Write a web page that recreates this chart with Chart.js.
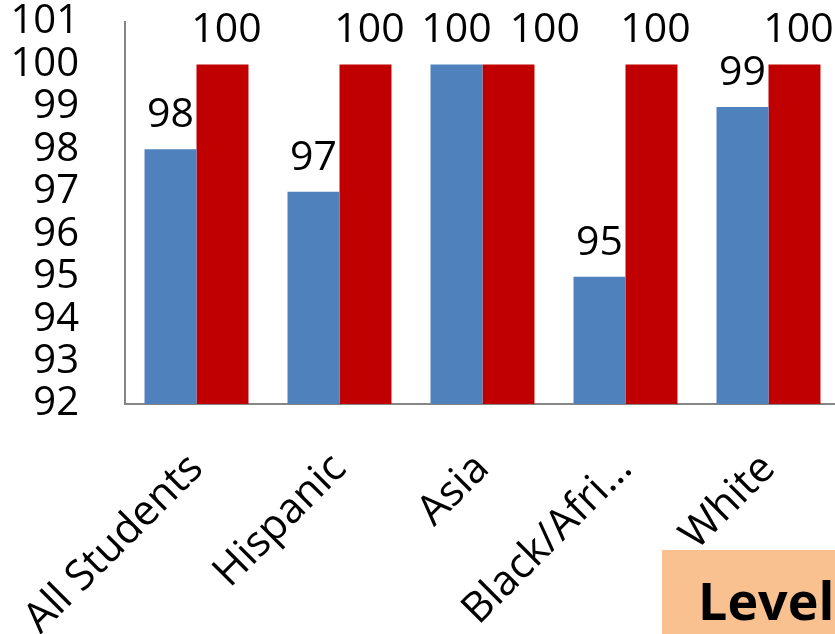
<!DOCTYPE html>
<html lang="en">
<head>
    <meta charset="UTF-8">
    <title>Level Chart</title>
    <script src="https://cdn.jsdelivr.net/npm/chart.js"></script>
    <style>
        body {
            margin: 0;
            background-color: #ffffff;
            font-family: "Open Sans", sans-serif;
        }

        #wrap {
            position: relative;
            width: 835px;
            height: 634px;
            overflow: hidden;
        }

        #chartBox {
            position: absolute;
            left: 0;
            top: 0;
            width: 842px;
            height: 634px;
        }

        #levelTag {
            position: absolute;
            left: 662px;
            top: 550px;
            width: 190px;
            height: 90px;
            background-color: #f9c090;
            font-weight: bold;
            font-size: 52px;
            line-height: 100px;
            padding-left: 36px;
            box-sizing: border-box;
            color: #000;
        }
    </style>
</head>
<body>
<div id="wrap">
    <div id="chartBox">
        <canvas id="levelChart"></canvas>
    </div>
    <div id="levelTag">Level</div>
</div>

<script>
    const groups = ['All Students', 'Hispanic', 'Asia', 'Black/Afri…', 'White'];
    const firstSeries = [98, 97, 100, 95, 99];
    const secondSeries = [100, 100, 100, 100, 100];
    const yTicks = [92, 93, 94, 95, 96, 97, 98, 99, 100, 101];

    // write each value a little above its bar, nudging the red one right if the two collide
    const valueLabels = {
        id: 'valueLabels',
        afterDatasetsDraw(chart) {
            const ctx = chart.ctx;
            ctx.save();
            ctx.font = '41px "Open Sans"';
            ctx.fillStyle = '#000';
            ctx.textAlign = 'center';
            ctx.textBaseline = 'alphabetic';
            const blue = chart.getDatasetMeta(0).data;
            const red = chart.getDatasetMeta(1).data;
            groups.forEach((g, j) => {
                const t1 = String(firstSeries[j]);
                const t2 = String(secondSeries[j]);
                const w1 = ctx.measureText(t1).width;
                const w2 = ctx.measureText(t2).width;
                const y1 = blue[j].y - 22;
                const y2 = red[j].y - 22;
                let x2 = red[j].x + 4;
                if (Math.abs(y1 - y2) < 36) {
                    const minX = blue[j].x + w1 / 2 + 18 + w2 / 2;
                    if (x2 < minX) x2 = minX;
                }
                ctx.fillText(t1, blue[j].x, y1);
                ctx.fillText(t2, x2, y2);
            });
            ctx.restore();
        }
    };

    const ctx = document.getElementById('levelChart').getContext('2d');
    new Chart(ctx, {
        type: 'bar',
        data: {
            labels: groups,
            datasets: [{
                data: firstSeries,
                backgroundColor: '#4f81bd',
                barPercentage: 1.0,
                categoryPercentage: 0.727
            }, {
                data: secondSeries,
                backgroundColor: '#c00000',
                barPercentage: 1.0,
                categoryPercentage: 0.727
            }]
        },
        options: {
            responsive: true,
            maintainAspectRatio: false,
            animation: false,
            layout: {padding: {top: 22, right: 2, left: 0, bottom: 0}},
            plugins: {
                legend: {display: false},
                tooltip: {enabled: false}
            },
            scales: {
                x: {
                    grid: {display: false, drawTicks: false},
                    border: {color: '#868686', width: 2},
                    ticks: {
                        color: '#000',
                        font: {family: 'Open Sans', size: 42},
                        maxRotation: 45,
                        minRotation: 45,
                        autoSkip: false,
                        padding: 40
                    },
                    afterFit: scale => {
                        scale.height = 230;
                        scale.paddingLeft = 0;
                        scale.paddingRight = 0;
                    }
                },
                y: {
                    min: 92,
                    max: 101,
                    afterBuildTicks: scale => {
                        scale.ticks = yTicks.map(v => ({value: v}));
                    },
                    grid: {display: false, drawTicks: false},
                    border: {color: '#868686', width: 2},
                    ticks: {
                        color: '#000',
                        autoSkip: false,
                        font: {family: 'Open Sans', size: 40, lineHeight: 1.0},
                        padding: 46
                    },
                    afterFit: scale => {
                        scale.width = 125;
                        scale.paddingTop = 0;
                        scale.paddingBottom = 0;
                    }
                }
            }
        },
        plugins: [valueLabels]
    });
</script>
</body>
</html>
